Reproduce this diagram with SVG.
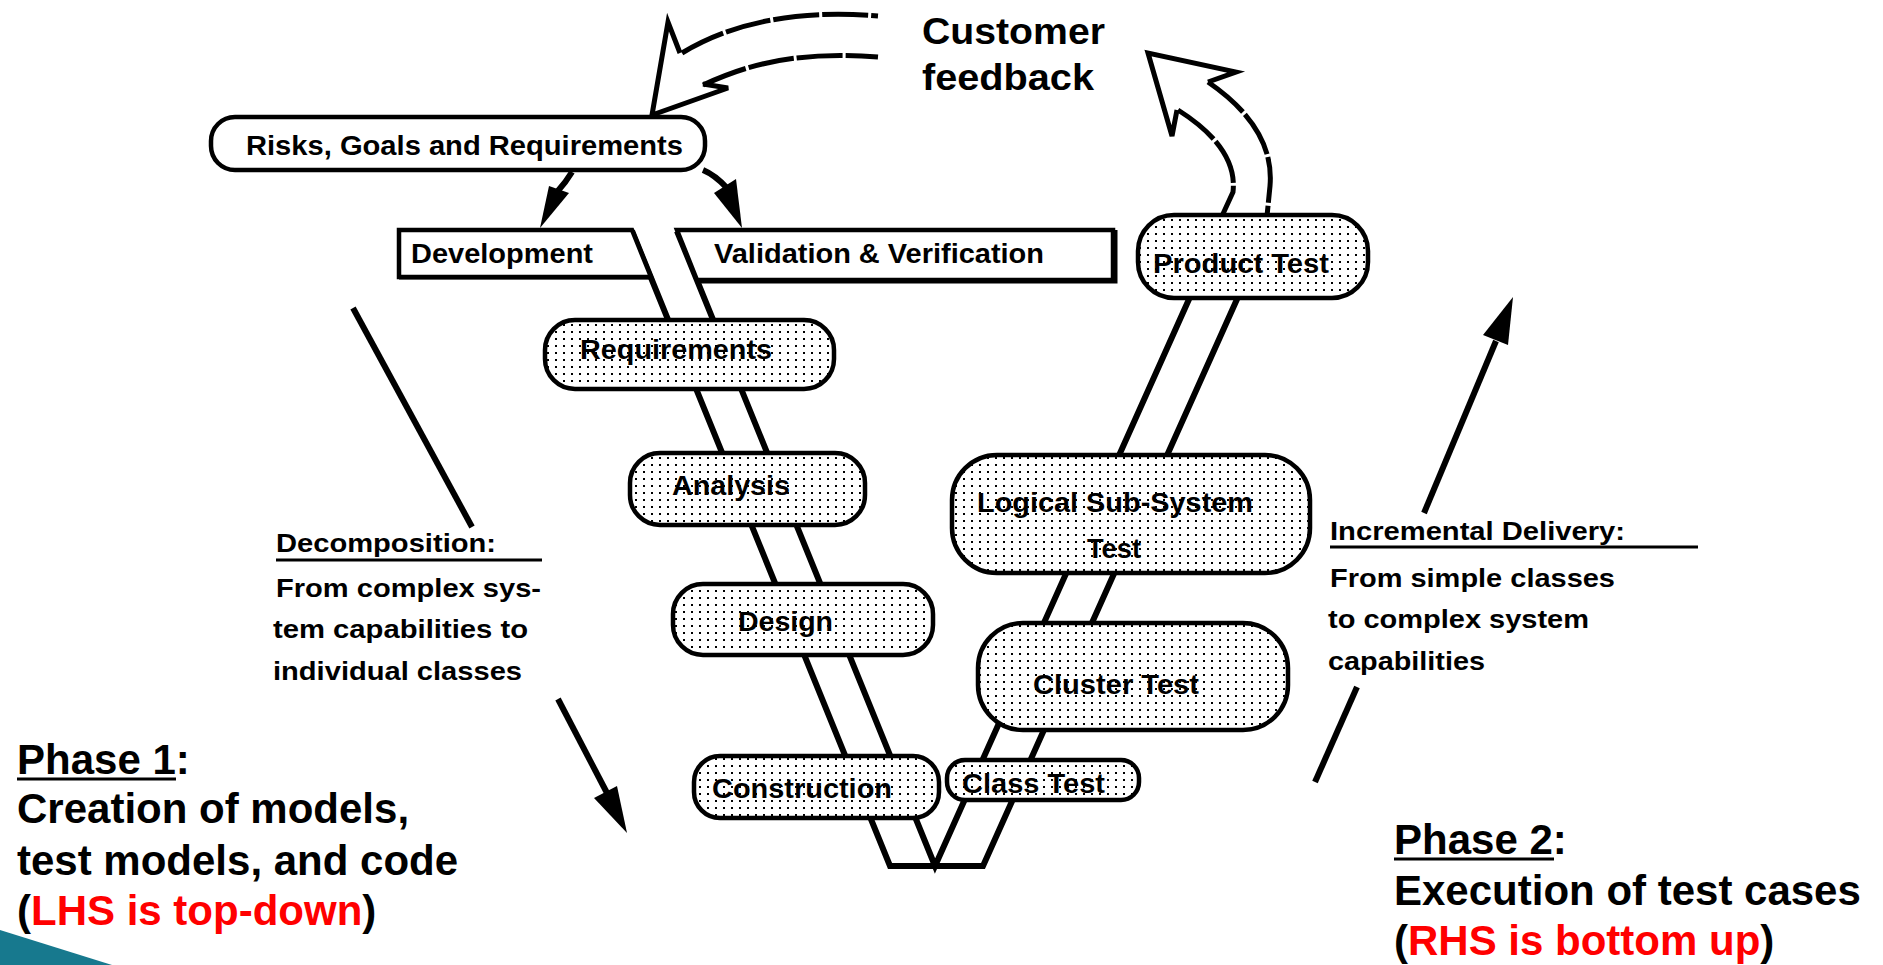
<svg xmlns="http://www.w3.org/2000/svg" width="1883" height="965" viewBox="0 0 1883 965">
<style>
.lbl{font-family:"Liberation Sans",Arial,Helvetica,sans-serif;font-weight:bold;fill:#000}
.big{font-family:"Liberation Sans",Arial,Helvetica,sans-serif;font-weight:bold;font-size:42px;fill:#000}
.red{fill:#ff0000}
.box{stroke:#000;stroke-width:4.5;fill:#fff}
.stip{stroke:#000;stroke-width:4.5;fill:url(#dots)}
.band{stroke:#000;stroke-width:6;fill:none;stroke-linecap:butt}
.shaft{stroke:#000;stroke-width:6;fill:none}
.head{fill:#000;stroke:none}
.dash{stroke:#000;stroke-width:5;fill:none;stroke-dasharray:46 3}
.fbhead{stroke:#000;stroke-width:5;fill:none;stroke-linejoin:miter}
.ul{stroke:#000;stroke-width:3}
</style>
<defs>
<pattern id="dots" width="8" height="7" patternUnits="userSpaceOnUse">
<rect width="8" height="7" fill="#fff"/>
<rect x="3" y="2" width="2" height="2" fill="#000"/>
</pattern>
</defs>
<rect width="1883" height="965" fill="#fff"/>

<g id="connectors">
<path class="band" d="M632,231 L890,866 L983,866 L1238,297"/>
<path class="band" d="M677,231 L935,866 L1190,297"/>
<path class="dash" d="M682,53 C720,30 780,8 878,16"/>
<path class="dash" d="M703,85 C740,68 790,50 878,57"/>
<path class="fbhead" d="M680,53 L668,22 L652,115 L728,88 L703,84"/>
<path class="dash" d="M1178,110 Q1238,148 1233,192 L1222,216"/>
<path class="dash" d="M1208,82 Q1275,128 1270,186 L1267,216"/>
<path class="fbhead" d="M1177,110 L1172,136 L1148,53 L1236,72 L1208,82"/>
<path class="shaft" d="M572,172 Q566,182 557,192" stroke-width="5"/>
<polygon class="head" points="540,228 549,186 569,193"/>
<path class="shaft" d="M703,170 Q715,175 727,188" stroke-width="5"/>
<polygon class="head" points="742,228 714,193 736,179"/>
<line class="shaft" x1="353" y1="308" x2="472" y2="527"/>
<line class="shaft" x1="558" y1="699" x2="607" y2="793"/>
<polygon class="head" points="627,833 617,786 594,798"/>
<line class="shaft" x1="1315" y1="782" x2="1357" y2="687"/>
<line class="shaft" x1="1424" y1="513" x2="1496" y2="341"/>
<polygon class="head" points="1513,297 1483,335 1508,345"/>
</g>

<g id="risks">
<rect class="box" x="211" y="117" width="494" height="53" rx="24"/>
<text class="lbl" x="246" y="155" font-size="27" textLength="437" lengthAdjust="spacingAndGlyphs">Risks, Goals and Requirements</text>
</g>

<g id="customer-feedback">
<text class="lbl" x="922" y="44" font-size="36" textLength="183" lengthAdjust="spacingAndGlyphs">Customer</text>
<text class="lbl" x="922" y="90" font-size="36" textLength="172" lengthAdjust="spacingAndGlyphs">feedback</text>
</g>

<g id="development">
<polygon class="box" points="399,230 632,230 651,277 399,277"/>
<line x1="399" y1="278" x2="651" y2="278" stroke="#000" stroke-width="3"/>
<text class="lbl" x="411" y="263" font-size="27" textLength="182" lengthAdjust="spacingAndGlyphs">Development</text>
</g>

<g id="validation">
<polygon class="box" points="677,230 1113,230 1113,280 697,280"/>
<path d="M697,281 L1115,281 L1115,230" fill="none" stroke="#000" stroke-width="5"/>
<text class="lbl" x="714" y="263" font-size="27" textLength="330" lengthAdjust="spacingAndGlyphs">Validation &amp; Verification</text>
</g>

<g id="requirements">
<rect class="stip" x="545" y="320" width="289" height="69" rx="30"/>
<text class="lbl" x="580" y="359" font-size="27" textLength="192" lengthAdjust="spacingAndGlyphs">Requirements</text>
</g>

<g id="analysis">
<rect class="stip" x="630" y="453" width="235" height="72" rx="30"/>
<text class="lbl" x="672" y="495" font-size="27" textLength="118" lengthAdjust="spacingAndGlyphs">Analysis</text>
</g>

<g id="design">
<rect class="stip" x="673" y="584" width="260" height="71" rx="30"/>
<text class="lbl" x="738" y="631" font-size="27" textLength="95" lengthAdjust="spacingAndGlyphs">Design</text>
</g>

<g id="construction">
<rect class="stip" x="694" y="756" width="245" height="62" rx="26"/>
<text class="lbl" x="712" y="798" font-size="27" textLength="180" lengthAdjust="spacingAndGlyphs">Construction</text>
</g>

<g id="class-test">
<rect class="stip" x="947" y="760" width="192" height="40" rx="18"/>
<text class="lbl" x="962" y="793" font-size="27" textLength="143" lengthAdjust="spacingAndGlyphs">Class Test</text>
</g>

<g id="cluster-test">
<rect class="stip" x="978" y="623" width="310" height="107" rx="45"/>
<text class="lbl" x="1033" y="694" font-size="27" textLength="166" lengthAdjust="spacingAndGlyphs">Cluster Test</text>
</g>

<g id="logical-subsystem-test">
<rect class="stip" x="952" y="455" width="358" height="118" rx="45"/>
<text class="lbl" x="977" y="512" font-size="27" textLength="276" lengthAdjust="spacingAndGlyphs">Logical Sub-System</text>
<text class="lbl" x="1087" y="558" font-size="27" textLength="54" lengthAdjust="spacingAndGlyphs">Test</text>
</g>

<g id="product-test">
<rect class="stip" x="1138" y="215" width="230" height="83" rx="36"/>
<text class="lbl" x="1153" y="273" font-size="27" textLength="176" lengthAdjust="spacingAndGlyphs">Product Test</text>
</g>

<g id="decomposition-note">
<text class="lbl" x="276" y="552" font-size="26" textLength="220" lengthAdjust="spacingAndGlyphs">Decomposition:</text>
<line class="ul" x1="276" y1="560" x2="542" y2="560"/>
<text class="lbl" x="276" y="597" font-size="26" textLength="265" lengthAdjust="spacingAndGlyphs">From complex sys-</text>
<text class="lbl" x="273" y="638" font-size="26" textLength="255" lengthAdjust="spacingAndGlyphs">tem capabilities to</text>
<text class="lbl" x="273" y="680" font-size="26" textLength="249" lengthAdjust="spacingAndGlyphs">individual classes</text>
</g>

<g id="incremental-note">
<text class="lbl" x="1330" y="540" font-size="26" textLength="295" lengthAdjust="spacingAndGlyphs">Incremental Delivery:</text>
<line class="ul" x1="1330" y1="547" x2="1698" y2="547"/>
<text class="lbl" x="1330" y="587" font-size="26" textLength="285" lengthAdjust="spacingAndGlyphs">From simple classes</text>
<text class="lbl" x="1328" y="628" font-size="26" textLength="261" lengthAdjust="spacingAndGlyphs">to complex system</text>
<text class="lbl" x="1328" y="670" font-size="26" textLength="157" lengthAdjust="spacingAndGlyphs">capabilities</text>
</g>

<g id="phase1">
<text class="big" x="17" y="774">Phase 1:</text>
<line x1="17" y1="779" x2="176" y2="779" stroke="#000" stroke-width="3"/>
<text class="big" x="17" y="823">Creation of models,</text>
<text class="big" x="17" y="875">test models, and code</text>
<text class="big" x="17" y="925">(<tspan class="red">LHS is top-down</tspan>)</text>
</g>

<g id="phase2">
<text class="big" x="1394" y="854">Phase 2:</text>
<line x1="1394" y1="859" x2="1554" y2="859" stroke="#000" stroke-width="3"/>
<text class="big" x="1394" y="905">Execution of test cases</text>
<text class="big" x="1394" y="955">(<tspan class="red">RHS is bottom up</tspan>)</text>
</g>

<polygon id="corner" points="0,930 112,965 0,965" fill="#17798e"/>
</svg>
